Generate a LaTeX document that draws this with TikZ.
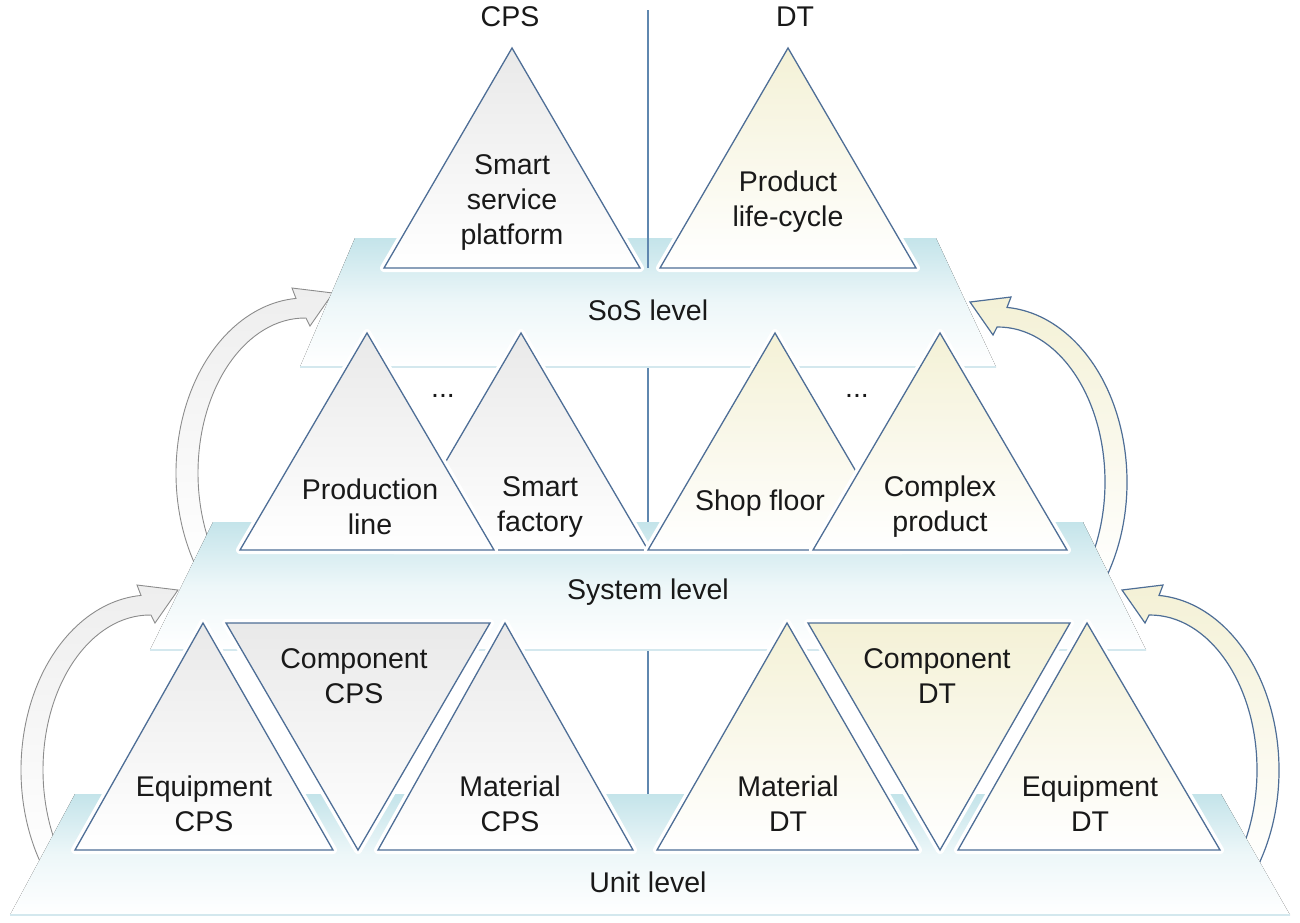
\documentclass[tikz,border=0pt]{standalone}
\usepackage{fontspec}
\setmainfont{Liberation Sans}
\usetikzlibrary{calc}
\definecolor{edge}{RGB}{78,110,150}
\definecolor{vline}{RGB}{95,135,175}
\definecolor{cyanT}{RGB}{196,228,234}
\definecolor{grayT}{RGB}{233,233,233}
\definecolor{yelT}{RGB}{244,241,214}
\definecolor{garrow}{RGB}{140,140,140}
\definecolor{garrowF}{RGB}{238,238,238}
\definecolor{txt}{RGB}{25,25,25}
\definecolor{shadowc}{RGB}{212,232,238}
\tikzset{
  tri/.style={draw=edge, line width=1.3pt, line join=miter},
  glow/.style={draw=white, line width=8pt, line join=round},
  cpsfill/.style={top color=grayT, bottom color=white},
  dtfill/.style={top color=yelT, bottom color=white},
  platform/.style={top color=cyanT, bottom color=white, middle color=cyanT!30},
  platshadow/.style={draw=shadowc, line width=2pt},
  lbl/.style={font=\fontsize{28.5}{35}\selectfont, text=txt, align=center, inner sep=0pt},
  garrowstyle/.style={draw=garrow, line width=0.9pt, top color=garrowF, bottom color=white, line join=miter},
  yarrowstyle/.style={draw=edge, line width=1.2pt, top color=yelT, bottom color=white, line join=miter},
  divider/.style={draw=vline, line width=1.3pt}
}
\begin{document}
\begin{tikzpicture}[x=1pt, y=-1pt]
\useasboundingbox (0,0) rectangle (1300,922);

% divider
\draw[divider] (648,10) -- (648,794);

% arrows (behind platforms)
% lower left
\coordinate (cLL) at (150,770);
\path[garrowstyle] ($(cLL)+(145:129 and 175)$)
  arc[start angle=145, end angle=266, x radius=129, y radius=175]
  -- ($(cLL)+(-13,-185)$) -- ($(cLL)+(28,-180)$) -- ($(cLL)+(5,-147)$)
  -- ($(cLL)+(270.5:107 and 155)$)
  arc[start angle=270.5, end angle=140, x radius=107, y radius=155] -- cycle;
% upper left
\coordinate (cUL) at (305,473);
\path[garrowstyle] ($(cUL)+(145:129 and 175)$)
  arc[start angle=145, end angle=266, x radius=129, y radius=175]
  -- ($(cUL)+(-13,-185)$) -- ($(cUL)+(28,-180)$) -- ($(cUL)+(5,-147)$)
  -- ($(cUL)+(270.5:107 and 155)$)
  arc[start angle=270.5, end angle=140, x radius=107, y radius=155] -- cycle;
% lower right
\coordinate (cLR) at (1150,770);
\path[yarrowstyle] ($(cLR)+(35:129 and 175)$)
  arc[start angle=35, end angle=-86, x radius=129, y radius=175]
  -- ($(cLR)+(13,-185)$) -- ($(cLR)+(-28,-180)$) -- ($(cLR)+(-5,-147)$)
  -- ($(cLR)+(-90.5:107 and 155)$)
  arc[start angle=-90.5, end angle=40, x radius=107, y radius=155] -- cycle;
% upper right
\coordinate (cUR) at (998,482);
\path[yarrowstyle] ($(cUR)+(35:129 and 175)$)
  arc[start angle=35, end angle=-86, x radius=129, y radius=175]
  -- ($(cUR)+(13,-185)$) -- ($(cUR)+(-28,-180)$) -- ($(cUR)+(-5,-147)$)
  -- ($(cUR)+(-90.5:107 and 155)$)
  arc[start angle=-90.5, end angle=40, x radius=107, y radius=155] -- cycle;

% platforms
\fill[platform] (355,238) -- (936,238) -- (996,367) -- (300,367) -- cycle;
\draw[platshadow] (300,367) -- (996,367);
\fill[platform] (213,522) -- (1083,522) -- (1146,650) -- (150,650) -- cycle;
\draw[platshadow] (150,650) -- (1146,650);
\fill[platform] (75,794) -- (1221,794) -- (1290,915) -- (10,915) -- cycle;
\draw[platshadow] (10,915) -- (1290,915);

\draw[divider] (648,238) -- (648,268);

% SoS triangles
\draw[glow] (512,48) -- (640,268) -- (384,268) -- cycle;
\path[tri, cpsfill] (512,48) -- (640,268) -- (384,268) -- cycle;
\draw[glow] (788,48) -- (916,268) -- (660,268) -- cycle;
\path[tri, dtfill] (788,48) -- (916,268) -- (660,268) -- cycle;

% System triangles
\draw[glow] (521,333) -- (648,550) -- (394,550) -- cycle;
\path[tri, cpsfill] (521,333) -- (648,550) -- (394,550) -- cycle;
\draw[glow] (367,333) -- (494,550) -- (240,550) -- cycle;
\path[tri, cpsfill] (367,333) -- (494,550) -- (240,550) -- cycle;
\draw[glow] (775,333) -- (902,550) -- (648,550) -- cycle;
\path[tri, dtfill] (775,333) -- (902,550) -- (648,550) -- cycle;
\draw[glow] (940,333) -- (1067,550) -- (813,550) -- cycle;
\path[tri, dtfill] (940,333) -- (1067,550) -- (813,550) -- cycle;

% Unit triangles
\draw[glow] (203,623) -- (333,850) -- (75,850) -- cycle;
\path[tri, cpsfill] (203,623) -- (333,850) -- (75,850) -- cycle;
\draw[glow] (226,623) -- (490,623) -- (358,850) -- cycle;
\path[tri, cpsfill] (226,623) -- (490,623) -- (358,850) -- cycle;
\draw[glow] (505,623) -- (633,850) -- (378,850) -- cycle;
\path[tri, cpsfill] (505,623) -- (633,850) -- (378,850) -- cycle;
\draw[glow] (787,623) -- (918,850) -- (657,850) -- cycle;
\path[tri, dtfill] (787,623) -- (918,850) -- (657,850) -- cycle;
\draw[glow] (808,623) -- (1070,623) -- (940,850) -- cycle;
\path[tri, dtfill] (808,623) -- (1070,623) -- (940,850) -- cycle;
\draw[glow] (1087,623) -- (1220,850) -- (958,850) -- cycle;
\path[tri, dtfill] (1087,623) -- (1220,850) -- (958,850) -- cycle;

% labels
\node[lbl] (hcps) at (510,17) {CPS};
\node[lbl] (hdt) at (795,17) {DT};
\node[lbl] (ssp) at (512,202) {Smart\\service\\platform};
\node[lbl] (plc) at (788,202) {Product\\life-cycle};
\node[lbl] (sos) at (648,310) {SoS level};
\node[lbl] (pl) at (370,507) {Production\\line};
\node[lbl] (sf) at (540,507) {Smart\\factory};
\node[lbl] (shf) at (760,503) {Shop floor};
\node[lbl] (cp) at (940,507) {Complex\\product};
\node[lbl] (dots1) at (443,396) {...};
\node[lbl] (dots2) at (857,396) {...};
\node[lbl] (sys) at (648,592) {System level};
\node[lbl] (ccps) at (354,676) {Component\\CPS};
\node[lbl] (ecps) at (204,804) {Equipment\\CPS};
\node[lbl] (mcps) at (510,804) {Material\\CPS};
\node[lbl] (mdt) at (788,804) {Material\\DT};
\node[lbl] (cdt) at (937,676) {Component\\DT};
\node[lbl] (edt) at (1090,804) {Equipment\\DT};
\node[lbl] (unit) at (648,882) {Unit level};
\end{tikzpicture}
\end{document}
